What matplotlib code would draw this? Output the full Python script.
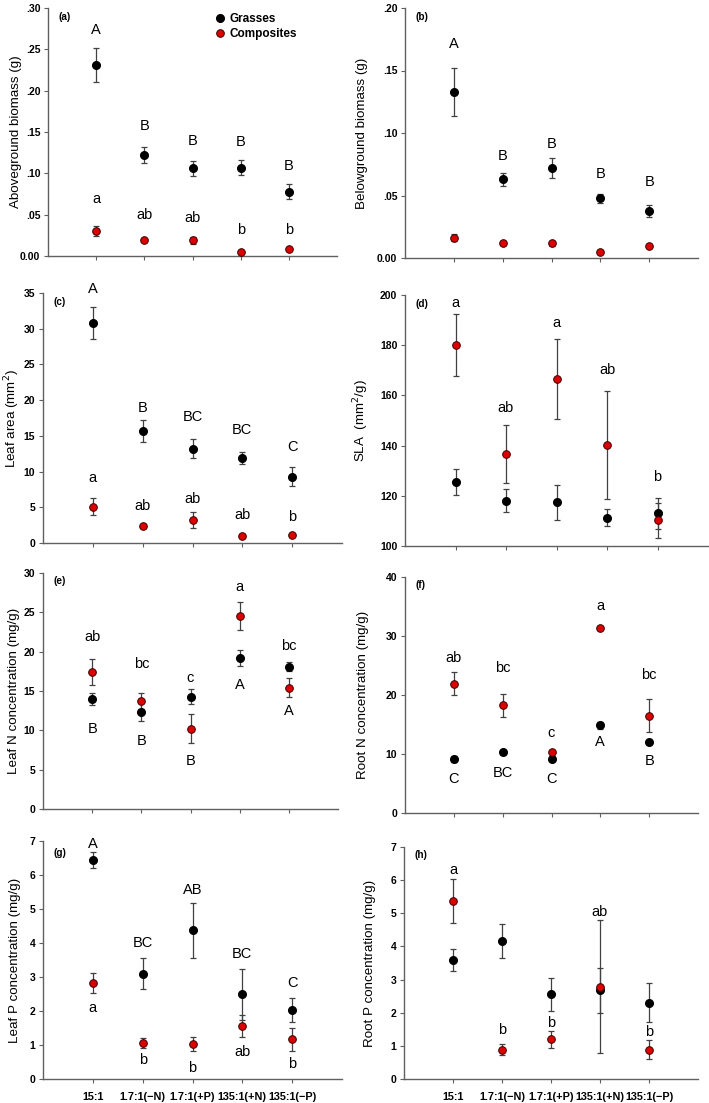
import matplotlib
matplotlib.use("Agg")
import matplotlib.pyplot as plt
from matplotlib.ticker import FuncFormatter

plt.rcParams['font.family'] = ['Liberation Sans', 'DejaVu Sans']

treatments = ['15:1', '1.7:1(\u2212N)', '1.7:1(+P)', '135:1(+N)', '135:1(\u2212P)']
xpos = [1, 2, 3, 4, 5]

# (a) aboveground biomass (g)
ag_grass = [0.231, 0.122, 0.106, 0.107, 0.078]
ag_grass_se = [0.021, 0.010, 0.009, 0.009, 0.009]
ag_comp = [0.030, 0.019, 0.019, 0.005, 0.009]
ag_comp_se = [0.006, 0.002, 0.0045, 0.001, 0.001]
ag_grass_lab = ['A', 'B', 'B', 'B', 'B']
ag_grass_lab_y = [0.273, 0.157, 0.139, 0.138, 0.109]
ag_comp_lab = ['a', 'ab', 'ab', 'b', 'b']
ag_comp_lab_y = [0.069, 0.049, 0.046, 0.031, 0.031]

# (b) belowground biomass (g)
bg_grass = [0.133, 0.063, 0.072, 0.048, 0.038]
bg_grass_se = [0.019, 0.0053, 0.008, 0.0036, 0.0048]
bg_comp = [0.0163, 0.0118, 0.0118, 0.0051, 0.0096]
bg_comp_se = [0.003, 0.0015, 0.002, 0.001, 0.0012]
bg_grass_lab = ['A', 'B', 'B', 'B', 'B']
bg_grass_lab_y = [0.171, 0.082, 0.091, 0.067, 0.061]

# (c) leaf area (mm2)
la_grass = [30.8, 15.7, 13.2, 11.9, 9.3]
la_grass_se = [2.2, 1.5, 1.33, 0.78, 1.3]
la_comp = [5.1, 2.4, 3.2, 1.0, 1.1]
la_comp_se = [1.15, 0.3, 1.15, 0.2, 0.2]
la_grass_lab = ['A', 'B', 'BC', 'BC', 'C']
la_grass_lab_y = [35.6, 18.9, 17.6, 15.8, 13.4]
la_comp_lab = ['a', 'ab', 'ab', 'ab', 'b']
la_comp_lab_y = [9.1, 5.2, 6.2, 3.9, 3.7]

# (d) SLA (mm2/g)
sla_grass = [125.5, 118.1, 117.5, 111.2, 113.0]
sla_grass_se = [5.0, 4.5, 7.0, 3.4, 6.2]
sla_comp = [180.1, 136.8, 166.5, 140.4, 110.2]
sla_comp_se = [12.3, 11.6, 16.0, 21.5, 7.1]
sla_comp_lab = ['a', 'ab', 'a', 'ab', 'b']
sla_comp_lab_y = [196.7, 154.8, 188.7, 170.1, 127.6]

# (e) leaf N concentration (mg/g)
ln_grass = [14.0, 12.3, 14.3, 19.2, 18.1]
ln_grass_se = [0.72, 1.15, 1.0, 0.97, 0.6]
ln_comp = [17.4, 13.7, 10.2, 24.5, 15.4]
ln_comp_se = [1.7, 1.0, 1.82, 1.76, 1.2]
ln_grass_lab = ['B', 'B', 'B', 'A', 'A']
ln_grass_lab_y = [10.2, 8.6, 6.1, 15.7, 12.4]
ln_comp_lab = ['ab', 'bc', 'c', 'a', 'bc']
ln_comp_lab_y = [21.9, 18.4, 16.6, 28.2, 20.7]

# (f) root N concentration (mg/g)
rn_grass = [9.1, 10.3, 9.2, 14.9, 12.0]
rn_grass_se = [0.5, 0.3, 0.4, 0.6, 0.3]
rn_comp = [21.9, 18.3, 10.4, 31.4, 16.5]
rn_comp_se = [1.95, 1.95, 0.3, 0.3, 2.85]
rn_grass_lab = ['C', 'BC', 'C', 'A', 'B']
rn_grass_lab_y = [5.7, 6.8, 5.8, 12.1, 8.8]
rn_comp_lab = ['ab', 'bc', 'c', 'a', 'bc']
rn_comp_lab_y = [26.2, 24.5, 13.6, 35.1, 23.4]

# (g) leaf P concentration (mg/g)
lp_grass = [6.45, 3.10, 4.37, 2.50, 2.02]
lp_grass_se = [0.23, 0.45, 0.82, 0.75, 0.35]
lp_comp = [2.82, 1.06, 1.03, 1.56, 1.17]
lp_comp_se = [0.29, 0.16, 0.2, 0.31, 0.34]
lp_grass_lab = ['A', 'BC', 'AB', 'BC', 'C']
lp_grass_lab_y = [6.92, 4.0, 5.57, 3.69, 2.82]
lp_comp_lab = ['a', 'b', 'b', 'ab', 'b']
lp_comp_lab_y = [2.08, 0.57, 0.32, 0.78, 0.44]

# (h) root P concentration (mg/g)
rp_grass = [3.59, 4.16, 2.55, 2.68, 2.30]
rp_grass_se = [0.32, 0.51, 0.51, 0.68, 0.59]
rp_comp = [5.36, 0.89, 1.20, 2.79, 0.89]
rp_comp_se = [0.66, 0.17, 0.26, 2.0, 0.3]
rp_comp_lab = ['a', 'b', 'b', 'ab', 'b']
rp_comp_lab_y = [6.32, 1.49, 1.70, 5.05, 1.42]


def rect(l, t, r, b):
    return [l / 709, 1 - b / 1103, (r - l) / 709, (b - t) / 1103]


def dot_fmt(v, pos):
    # .30 .25 ... 0.00 style
    if abs(v) < 1e-9:
        return '0.00'
    return ('%.2f' % v)[1:]


fig = plt.figure(figsize=(7.09, 11.03), dpi=100)

# px: axes left, top, right, bottom; ylx: ylabel centre x
panels = [
    dict(tag='(a)', px=(48, 8, 337, 256), ylx=16, ylim=(0, 0.30), yt=[0, .05, .10, .15, .20, .25, .30],
         ylab='Aboveground biomass (g)', g=ag_grass, gse=ag_grass_se, c=ag_comp, cse=ag_comp_se,
         labs=[(ag_grass_lab, ag_grass_lab_y), (ag_comp_lab, ag_comp_lab_y)], fmt=dot_fmt, legend=True),
    dict(tag='(b)', px=(405, 8, 698, 258), ylx=362, ylim=(0, 0.20), yt=[0, .05, .10, .15, .20],
         ylab='Belowground biomass (g)', g=bg_grass, gse=bg_grass_se, c=bg_comp, cse=bg_comp_se,
         labs=[(bg_grass_lab, bg_grass_lab_y)], fmt=dot_fmt),
    dict(tag='(c)', px=(43, 293, 342, 543), ylx=12, ylim=(0, 35), yt=range(0, 36, 5),
         ylab='Leaf area (mm$^2$)', g=la_grass, gse=la_grass_se, c=la_comp, cse=la_comp_se,
         labs=[(la_grass_lab, la_grass_lab_y), (la_comp_lab, la_comp_lab_y)]),
    dict(tag='(d)', px=(405, 295, 708, 546), ylx=361, ylim=(100, 200), yt=range(100, 201, 20),
         ylab='SLA  (mm$^2$/g)', g=sla_grass, gse=sla_grass_se, c=sla_comp, cse=sla_comp_se,
         labs=[(sla_comp_lab, sla_comp_lab_y)]),
    dict(tag='(e)', px=(43, 573, 338, 809), ylx=14, ylim=(0, 30), yt=range(0, 31, 5),
         ylab='Leaf N concentration (mg/g)', g=ln_grass, gse=ln_grass_se, c=ln_comp, cse=ln_comp_se,
         labs=[(ln_grass_lab, ln_grass_lab_y), (ln_comp_lab, ln_comp_lab_y)]),
    dict(tag='(f)', px=(405, 577, 698, 813), ylx=363, ylim=(0, 40), yt=range(0, 41, 10),
         ylab='Root N concentration (mg/g)', g=rn_grass, gse=rn_grass_se, c=rn_comp, cse=rn_comp_se,
         labs=[(rn_grass_lab, rn_grass_lab_y), (rn_comp_lab, rn_comp_lab_y)]),
    dict(tag='(g)', px=(43, 841, 342, 1079), ylx=15, ylim=(0, 7), yt=range(0, 8),
         ylab='Leaf P concentration (mg/g)', g=lp_grass, gse=lp_grass_se, c=lp_comp, cse=lp_comp_se,
         labs=[(lp_grass_lab, lp_grass_lab_y), (lp_comp_lab, lp_comp_lab_y)], xlabels=True, tagy=0.948),
    dict(tag='(h)', px=(404, 847, 698, 1079), ylx=370, ylim=(0, 7), yt=range(0, 8),
         ylab='Root P concentration (mg/g)', g=rp_grass, gse=rp_grass_se, c=rp_comp, cse=rp_comp_se,
         labs=[(rp_comp_lab, rp_comp_lab_y)], xlabels=True),
]

spine_col = '#606060'
err_col = '#404040'

for p in panels:
    l, t, r, b = p['px']
    ax = fig.add_axes(rect(l, t, r, b))
    # error bars first, markers on top (composites above grasses)
    ax.errorbar(xpos, p['g'], yerr=p['gse'], fmt='none', ecolor=err_col, elinewidth=0.9,
                capsize=2.3, capthick=0.9, zorder=2)
    ax.errorbar(xpos, p['c'], yerr=p['cse'], fmt='none', ecolor=err_col, elinewidth=0.9,
                capsize=2.3, capthick=0.9, zorder=2)
    ax.plot(xpos, p['g'], 'o', color='black', markersize=5.5, zorder=3, label='Grasses')
    ax.plot(xpos, p['c'], 'o', markerfacecolor='#dd0000', markeredgecolor='#3a0000',
            markeredgewidth=0.7, markersize=5.5, zorder=4, label='Composites', linestyle='none')

    for texts, ys in p['labs']:
        for xi, txt, yy in zip(xpos, texts, ys):
            ax.text(xi, yy, txt, ha='center', va='center', fontsize=10.5, color='black')

    ax.set_xlim(0, 6)
    ax.set_ylim(*p['ylim'])
    ax.set_yticks(list(p['yt']))
    ax.set_xticks(xpos)
    if p.get('xlabels'):
        ax.set_xticklabels(treatments, fontsize=7.8, fontweight='bold')
    else:
        ax.set_xticklabels([])
    if 'fmt' in p:
        ax.yaxis.set_major_formatter(FuncFormatter(p['fmt']))
    for lbl in ax.get_yticklabels():
        lbl.set_fontweight('bold')
        lbl.set_fontsize(7.5)

    ax.set_ylabel(p['ylab'], fontsize=9.6)
    ax.yaxis.label.set_verticalalignment('center')
    ax.yaxis.set_label_coords((p['ylx'] - l) / (r - l), 0.5)

    ax.spines['top'].set_visible(False)
    ax.spines['right'].set_visible(False)
    for s in ('left', 'bottom'):
        ax.spines[s].set_color(spine_col)
        ax.spines[s].set_linewidth(1.0)
    ax.tick_params(direction='out', length=3, width=0.8, color=spine_col, pad=2.5)
    ax.tick_params(axis='x', pad=6)

    ax.text(0.035, p.get('tagy', 0.965), p['tag'], transform=ax.transAxes, fontsize=7.2,
            fontweight='bold', ha='left', va='center')

    if p.get('legend'):
        ax.legend(loc='upper left', bbox_to_anchor=(0.56, 1.0), frameon=False,
                  prop=dict(size=8.5, weight='bold'), handletextpad=0.3, labelspacing=0.25,
                  handlelength=1.0, borderaxespad=0.0)

fig.savefig('out.png', dpi=100)
